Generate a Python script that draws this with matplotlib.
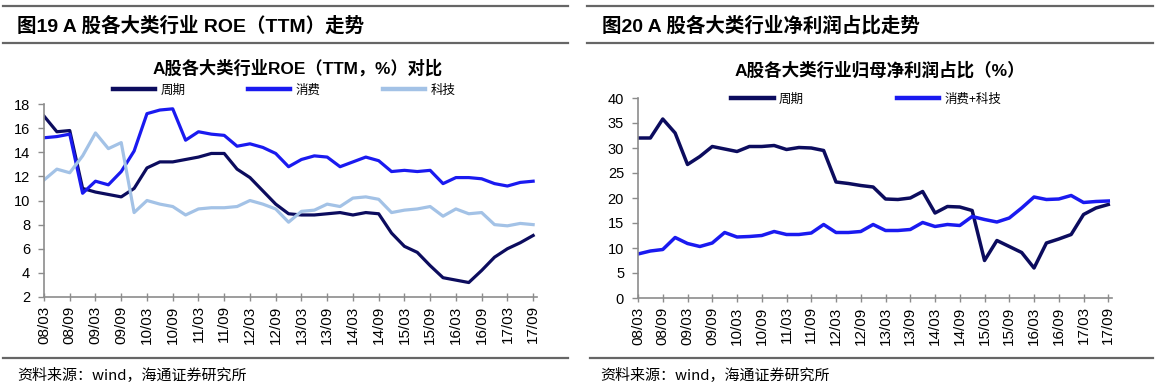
import matplotlib
matplotlib.use("Agg")
import matplotlib.pyplot as plt
from matplotlib.lines import Line2D

plt.rcParams['font.family'] = ['Liberation Sans', 'Noto Sans CJK SC', 'DejaVu Sans']

# quarterly periods 08/03 ... 17/09
quarters = ['%02d/%s' % (y, m) for y in range(8, 18) for m in ('03', '06', '09', '12')][:39]

# left chart: ROE (TTM, %)
roe_cyc = [17.0, 15.7, 15.8, 11.0, 10.7, 10.5, 10.3, 11.0, 12.7, 13.2,
           13.2, 13.4, 13.6, 13.9, 13.9, 12.6, 11.9, 10.8, 9.7, 8.9,
           8.8, 8.8, 8.9, 9.0, 8.8, 9.0, 8.9, 7.3, 6.2, 5.7,
           4.6, 3.6, 3.4, 3.2, 4.2, 5.3, 6.0, 6.5, 7.1]
roe_con = [15.2, 15.3, 15.5, 10.6, 11.6, 11.3, 12.4, 14.1, 17.2, 17.5,
           17.6, 15.0, 15.7, 15.5, 15.4, 14.5, 14.7, 14.4, 13.9, 12.8,
           13.4, 13.7, 13.6, 12.8, 13.2, 13.6, 13.3, 12.4, 12.5, 12.4,
           12.5, 11.4, 11.9, 11.9, 11.8, 11.4, 11.2, 11.5, 11.6]
roe_tec = [11.7, 12.6, 12.3, 13.7, 15.6, 14.3, 14.8, 9.0, 10.0, 9.7,
           9.5, 8.8, 9.3, 9.4, 9.4, 9.5, 10.0, 9.7, 9.3, 8.2,
           9.1, 9.2, 9.7, 9.5, 10.2, 10.3, 10.1, 9.0, 9.2, 9.3,
           9.5, 8.7, 9.3, 8.9, 9.0, 8.0, 7.9, 8.1, 8.0]

# right chart: share of net profit attributable to parent (%)
np_cyc = [32.0, 32.0, 35.8, 33.0, 26.7, 28.3, 30.3, 29.8, 29.3, 30.3,
          30.3, 30.5, 29.7, 30.1, 30.0, 29.5, 23.2, 22.9, 22.5, 22.2,
          19.8, 19.7, 20.0, 21.3, 17.0, 18.3, 18.2, 17.5, 7.5, 11.5,
          10.3, 9.1, 6.0, 11.0, 11.8, 12.7, 16.7, 18.0, 18.7]
np_ct = [8.8, 9.4, 9.7, 12.1, 10.9, 10.3, 11.0, 13.1, 12.2, 12.3,
         12.5, 13.3, 12.7, 12.7, 13.0, 14.7, 13.1, 13.1, 13.3, 14.7,
         13.5, 13.5, 13.7, 15.1, 14.3, 14.7, 14.5, 16.3, 15.7, 15.2,
         16.0, 18.0, 20.2, 19.7, 19.8, 20.5, 19.1, 19.3, 19.4]

NAVY = '#0c0c5e'
BLUE = '#1a1af0'
LIGHT = '#a3c2e6'
GRAY = '#8c8c8c'
CJK = ['Noto Sans CJK SC', 'DejaVu Sans']

W, H = 1158, 390
fig = plt.figure(figsize=(W / 100, H / 100), dpi=100)


def fx(px):
    return px / W


def fy(py):
    return 1 - py / H


def hline(x0, x1, y):
    fig.add_artist(Line2D([fx(x0), fx(x1)], [fy(y), fy(y)], color='#666666', lw=1.6))


def style_axes(ax, ymin, ymax, ystep):
    x = range(len(quarters))
    ax.set_xlim(0, len(quarters) - 1 + 0.3)
    ax.set_ylim(ymin, ymax)
    ax.set_yticks(range(ymin, ymax + 1, ystep))
    ax.set_xticks(list(x)[::2])
    ax.set_xticklabels(quarters[::2], rotation=90, fontsize=11)
    ax.tick_params(axis='y', labelsize=10.5, length=4, color=GRAY, width=1, pad=6)
    ax.tick_params(axis='x', direction='inout', length=6, color=GRAY, width=1, pad=3)
    for s in ('top', 'right'):
        ax.spines[s].set_visible(False)
    for s in ('left', 'bottom'):
        ax.spines[s].set_color(GRAY)
        ax.spines[s].set_linewidth(1.2)


# ---------- left panel ----------
hline(3, 568, 6)
hline(3, 568, 43)
hline(3, 568, 358)
fig.text(fx(17), fy(26), '图19 A 股各大类行业 ROE（TTM）走势', fontsize=14,
         fontweight='bold', va='center', ha='left')
fig.text(fx(298), fy(68), 'A股各大类行业ROE（TTM，%）对比', fontsize=12.4,
         fontweight='bold', va='center', ha='center')
fig.text(fx(17), fy(376), '资料来源：wind，海通证券研究所', fontsize=10.8,
         va='center', ha='left', family=CJK)

ax1 = fig.add_axes([fx(44), fy(297), fx(537 - 44), fy(104) - fy(297)])
x = range(len(quarters))
ax1.plot(x, roe_cyc, color=NAVY, lw=2.3, label='周期')
ax1.plot(x, roe_con, color=BLUE, lw=2.3, label='消费')
ax1.plot(x, roe_tec, color=LIGHT, lw=2.3, label='科技')
style_axes(ax1, 2, 18, 2)
leg1 = ax1.legend(loc='center', bbox_to_anchor=(fx(284), fy(90)), bbox_transform=fig.transFigure,
                  ncol=3, frameon=False, handlelength=3.4, handletextpad=0.4,
                  columnspacing=5.0, prop={'family': CJK, 'size': 9})
for h in leg1.get_lines():
    h.set_linewidth(3.2)

# ---------- right panel ----------
hline(587, 1153, 6)
hline(587, 1153, 43)
hline(590, 1153, 358)
fig.text(fx(602), fy(26), '图20 A 股各大类行业净利润占比走势', fontsize=14,
         fontweight='bold', va='center', ha='left')
fig.text(fx(880), fy(70), 'A股各大类行业归母净利润占比（%）', fontsize=12.6,
         fontweight='bold', va='center', ha='center')
fig.text(fx(600), fy(376), '资料来源：wind，海通证券研究所', fontsize=10.8,
         va='center', ha='left', family=CJK)

ax2 = fig.add_axes([fx(638), fy(298), fx(1112 - 638), fy(98) - fy(298)])
ax2.plot(x, np_cyc, color=NAVY, lw=2.5, label='周期')
ax2.plot(x, np_ct, color=BLUE, lw=2.5, label='消费+科技')
style_axes(ax2, 0, 40, 5)
leg2 = ax2.legend(loc='center', bbox_to_anchor=(fx(866), fy(99)), bbox_transform=fig.transFigure,
                  ncol=2, frameon=False, handlelength=3.4, handletextpad=0.4,
                  columnspacing=7.45, prop={'family': CJK, 'size': 9})
for h in leg2.get_lines():
    h.set_linewidth(3.2)

fig.savefig('out.png', dpi=100)
